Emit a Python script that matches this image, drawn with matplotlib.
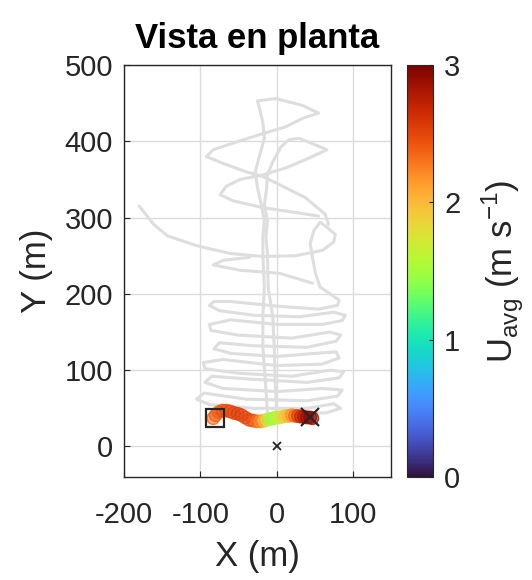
import numpy as np
import matplotlib
matplotlib.use("Agg")
import matplotlib.pyplot as plt
from matplotlib import cm, colors

plt.rcParams['font.family'] = ['Liberation Sans', 'DejaVu Sans']
plt.rcParams['axes.unicode_minus'] = False

# ---- grey flight track (data coords, m), traced segments ----
# strand A with the top loop and the first left loop
seg_a_x = [-12, -15, -18, -18, -16, -18, -18, -16, -20, -25, -28, -22, -16, -18, -25,
           -1, 34, 55, 34, 12, -18, -53, -83, -92, -70, -40, -18, 4, 38, 64, 68]
seg_a_y = [45, 90, 130, 170, 209, 253, 274, 296, 317, 339, 360, 382, 404, 425, 453,
           456, 447, 437, 430, 419, 410, 399, 389, 380, 371, 360, 354, 343, 326, 304, 291]

# strand B with the second top loop and the left tip at 330 m
seg_b_x = [0, -2, -3, -5, -11, -12, -14, -12, -16, -13, -12, -5, 6, 16, 29, 42, 66,
           38, 12, -18, -48, -66, -74, -57, -18, 16, 55]
seg_b_y = [45, 90, 130, 170, 209, 253, 274, 296, 317, 339, 356, 373, 393, 402, 404, 399, 389,
           376, 365, 356, 350, 341, 330, 322, 313, 308, 302]

# long tail from the far left into the right lobe
seg_tail_x = [-180, -161, -143, -104, -61, -18, 25, 60, 75, 77, 64, 57, 49, 44, 47, 51, 57]
seg_tail_y = [315, 291, 276, 263, 253, 249, 250, 257, 268, 278, 289, 294, 283, 266, 248, 227, 209]

# small zig near 240 m
seg_zig_x = [-35, -70, -83, -48, 4, 47]
seg_zig_y = [248, 244, 238, 231, 227, 214]

# lower zig-zag loops
seg_low_x = [57, 70, 82, 80, 55, 0, -60, -82, -88, -75, -30, 30, 75, 90, 86, 60, 0, -60,
             -88, -86, -50, 20, 70, 84, 78, 40, -30, -75, -82, -60, 0, 50, 78, 82, 60, 0,
             -70, -96, -94, -50, 20, 70, 88, 82, 40, -30, -85, -94, -70, 0, 60, 86, 80, 40,
             -40, -95, -105, -88, -30, 40, 75, 84, 65, 20]
seg_low_y = [209, 200, 192, 185, 180, 184, 190, 190, 185, 178, 172, 170, 176, 172, 165, 160, 160, 166,
             160, 152, 146, 142, 150, 146, 138, 130, 132, 136, 128, 122, 118, 122, 124, 116, 108, 106,
             114, 110, 102, 96, 92, 100, 98, 90, 84, 88, 92, 84, 76, 72, 76, 74, 66, 60,
             62, 70, 62, 55, 50, 50, 56, 50, 44, 44]

# ---- coloured markers: Uavg along the final leg ----
pts_x = [-83, -80, -76, -71, -66, -61, -56, -51, -46, -41, -36, -31, -26, -21, -16, -12,
         -8, -4, 0, 4, 8, 12, 16, 20, 24, 28, 32, 36, 40, 44, 47]
pts_y = [37, 41, 45, 47, 47, 46, 44, 43, 41, 38, 35, 34, 33, 33, 34, 35,
         36, 37, 38, 38, 39, 40, 40, 41, 40, 40, 39, 39, 38, 38, 37]
pts_u = [2.35, 2.4, 2.4, 2.45, 2.45, 2.5, 2.5, 2.55, 2.55, 2.5, 2.5, 2.45, 2.35, 2.2, 2.0, 1.75,
         1.5, 1.45, 1.55, 1.7, 1.85, 1.95, 2.05, 2.2, 2.35, 2.55, 2.7, 2.8, 2.9, 2.95, 2.9]

start_xy = (-81, 37)
end_xy = (44, 38)
home_xy = (0, 0)

x_ticks = [-200, -100, 0, 100]
y_ticks = [0, 100, 200, 300, 400, 500]
cb_ticks = [0, 1, 2, 3]

fig = plt.figure(figsize=(5.32, 5.80), dpi=100)
ax = fig.add_axes([124/532, 1-477/580, (391-124)/532, (477-65)/580])
cax = fig.add_axes([407/532, 1-477/580, (433-407)/532, (477-65)/580])

grey = '#dedede'
for sx, sy in [(seg_a_x, seg_a_y), (seg_b_x, seg_b_y), (seg_tail_x, seg_tail_y),
               (seg_zig_x, seg_zig_y), (seg_low_x, seg_low_y)]:
    ax.plot(sx, sy, color=grey, lw=2.2, solid_joinstyle='round', solid_capstyle='round', zorder=2)

cmap = matplotlib.colormaps['turbo']
norm = colors.Normalize(0, 3)
face = cmap(norm(np.array(pts_u)))
face[:, 3] = 0.55
edge = cmap(norm(np.array(pts_u)))
edge[:, 3] = 0.8
ax.scatter(pts_x, pts_y, s=80, facecolors=face, edgecolors=edge, linewidths=1.0, zorder=3)

ax.plot(*start_xy, marker='s', ms=13, mfc='none', mec='#262626', mew=1.6, zorder=4)
ax.plot(*end_xy, marker='x', ms=13, mec='#262626', mew=1.6, zorder=4)
ax.plot(*home_xy, marker='x', ms=6, mec='#262626', mew=1.3, zorder=4)

ax.set_xlim(-200, 150)
ax.set_ylim(-40, 500)
ax.set_xticks(x_ticks)
ax.set_yticks(y_ticks)
ax.grid(True, color='#dcdcdc', lw=1.0)
ax.set_axisbelow(True)
ax.tick_params(direction='in', length=4, labelsize=21, colors='#262626', pad=8)
ax.tick_params(axis='x', pad=17)
for s in ax.spines.values():
    s.set_color('#262626')
    s.set_linewidth(1.0)
ax.set_xlabel('X (m)', fontsize=25, color='#262626', labelpad=8)
ax.set_ylabel('Y (m)', fontsize=25, color='#262626', labelpad=8)
ax.set_title('Vista en planta', fontsize=25, fontweight='bold', color='#000000', pad=12)

sm = cm.ScalarMappable(norm=norm, cmap=cmap)
cb = fig.colorbar(sm, cax=cax, ticks=cb_ticks)
cb.ax.tick_params(direction='in', length=3, labelsize=21, colors='#262626', pad=8)
cb.outline.set_edgecolor('#262626')
cb.set_label(r'U$_{\mathregular{avg}}$ (m s$^{\mathregular{-1}}$)', fontsize=25, color='#262626', labelpad=14)

fig.savefig('out.png', dpi=100)
